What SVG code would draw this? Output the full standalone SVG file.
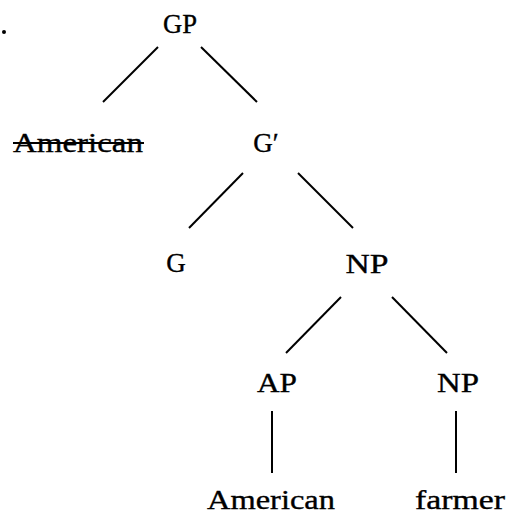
<svg xmlns="http://www.w3.org/2000/svg" width="506" height="514" viewBox="0 0 506 514">
  <style>
    .lbl { font-family: "Liberation Serif", "DejaVu Serif", serif; font-size: 27px; fill: #000; stroke: #000; stroke-width: 0.35; text-anchor: middle; }
    .edge { stroke: #000; stroke-width: 2; stroke-linecap: butt; fill: none; }
  </style>
  <rect width="506" height="514" fill="#fff"/>
  <circle cx="4" cy="32" r="2" fill="#000"/>

  <g id="connectors">
    <line class="edge" x1="158" y1="47" x2="103" y2="102"/>
    <line class="edge" x1="201" y1="47" x2="257" y2="102"/>
    <line class="edge" x1="243" y1="173" x2="189" y2="228"/>
    <line class="edge" x1="298" y1="173" x2="353" y2="228"/>
    <line class="edge" x1="341" y1="297" x2="286" y2="353"/>
    <line class="edge" x1="392" y1="297" x2="447" y2="353"/>
    <line class="edge" x1="272" y1="411" x2="272" y2="473"/>
    <line class="edge" x1="456" y1="411" x2="456" y2="473"/>
  </g>

  <g id="node-gp"><text class="lbl" x="180" y="33" textLength="34" lengthAdjust="spacingAndGlyphs">GP</text></g>
  <g id="node-spec">
    <text class="lbl" x="78" y="152" textLength="130" lengthAdjust="spacingAndGlyphs">American</text>
    <line x1="13" y1="143" x2="144" y2="143" stroke="#000" stroke-width="1.8"/>
  </g>
  <g id="node-gbar"><text class="lbl" x="266" y="152">G′</text></g>
  <g id="node-g"><text class="lbl" x="176" y="272">G</text></g>
  <g id="node-np"><text class="lbl" x="367" y="273" textLength="43" lengthAdjust="spacingAndGlyphs">NP</text></g>
  <g id="node-ap"><text class="lbl" x="277" y="392" textLength="40" lengthAdjust="spacingAndGlyphs">AP</text></g>
  <g id="node-np2"><text class="lbl" x="458" y="392" textLength="42" lengthAdjust="spacingAndGlyphs">NP</text></g>
  <g id="node-american"><text class="lbl" x="271" y="509" textLength="128" lengthAdjust="spacingAndGlyphs">American</text></g>
  <g id="node-farmer"><text class="lbl" x="460" y="509" textLength="90" lengthAdjust="spacingAndGlyphs">farmer</text></g>
</svg>
